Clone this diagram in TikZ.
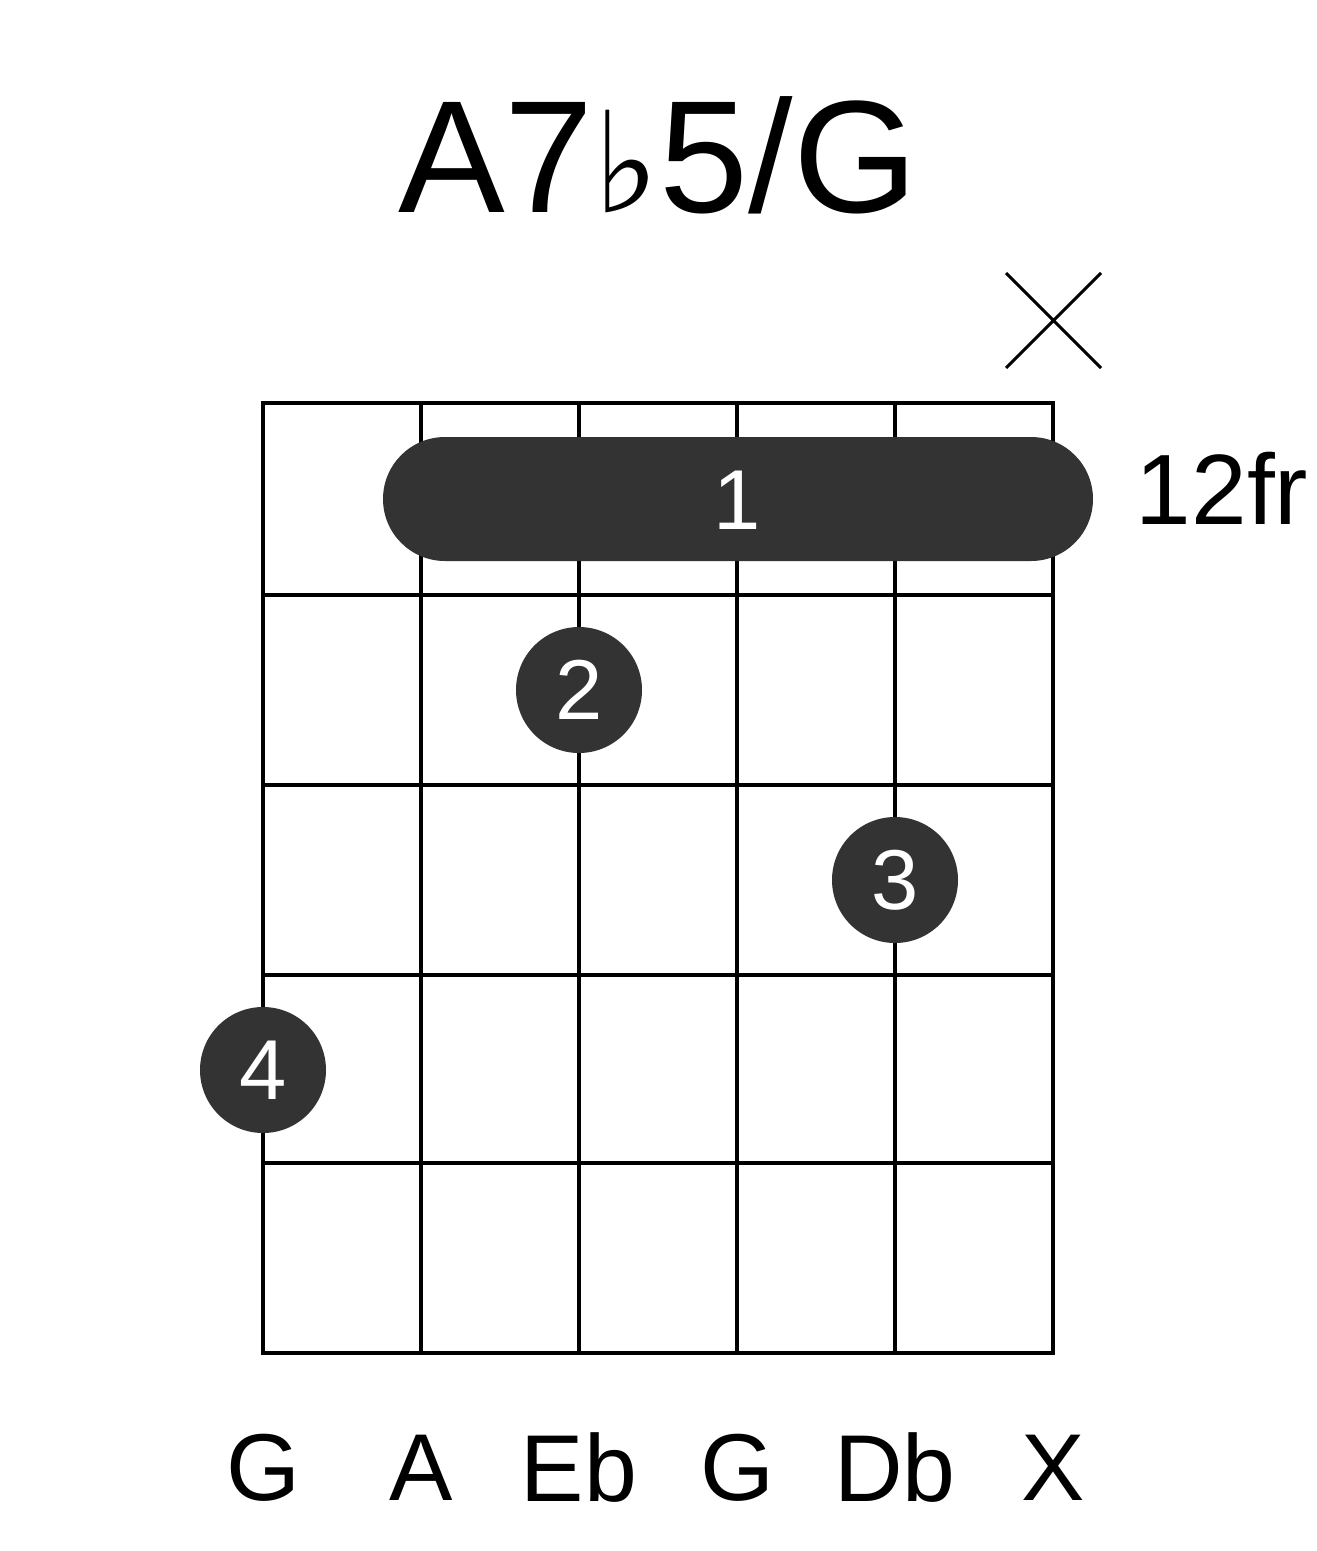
\documentclass[tikz,border=0pt]{standalone}
\usepackage{fontspec}
\setmainfont{Liberation Sans}
\newfontfamily\symfont{DejaVu Sans}
\begin{document}
\begin{tikzpicture}[x=1pt,y=-1pt,
  grid/.style={line width=4pt,black},
  dot/.style={circle,fill=black!80,minimum size=126pt,inner sep=0pt,text=white,font=\fontsize{85}{85}\selectfont},
  lbl/.style={font=\fontsize{95}{95}\selectfont}]
\useasboundingbox (0,0) rectangle (1317,1551);
\foreach \x in {263,421,579,737,895,1053} \draw[grid] (\x,403) -- (\x,1353);
\foreach \y in {403,595,785,975,1163,1353} \draw[grid] (261,\y) -- (1055,\y);
\fill[black!80,rounded corners=62pt] (383,437) rectangle (1093,561);
\node[text=white,font=\fontsize{85}{85}\selectfont] (b1) at (737,500) {1};
\node[dot] (d2) at (579,690) {2};
\node[dot] (d3) at (895,880) {3};
\node[dot] (d4) at (263,1070) {4};
\draw[line width=3pt] (1006,273) -- (1101,368) (1101,273) -- (1006,368);
\node[font=\fontsize{100}{100}\selectfont] (fr) at (1222,488) {12fr};
\node[font=\fontsize{160}{160}\selectfont] (t) at (658,155) {A7{\symfont\fontsize{140}{140}\selectfont ♭}5/G};
\foreach \x/\s in {263/G,421/A,579/Eb,737/G,895/Db,1053/X} \node[lbl] at (\x,1468) {\s};
\end{tikzpicture}
\end{document}
